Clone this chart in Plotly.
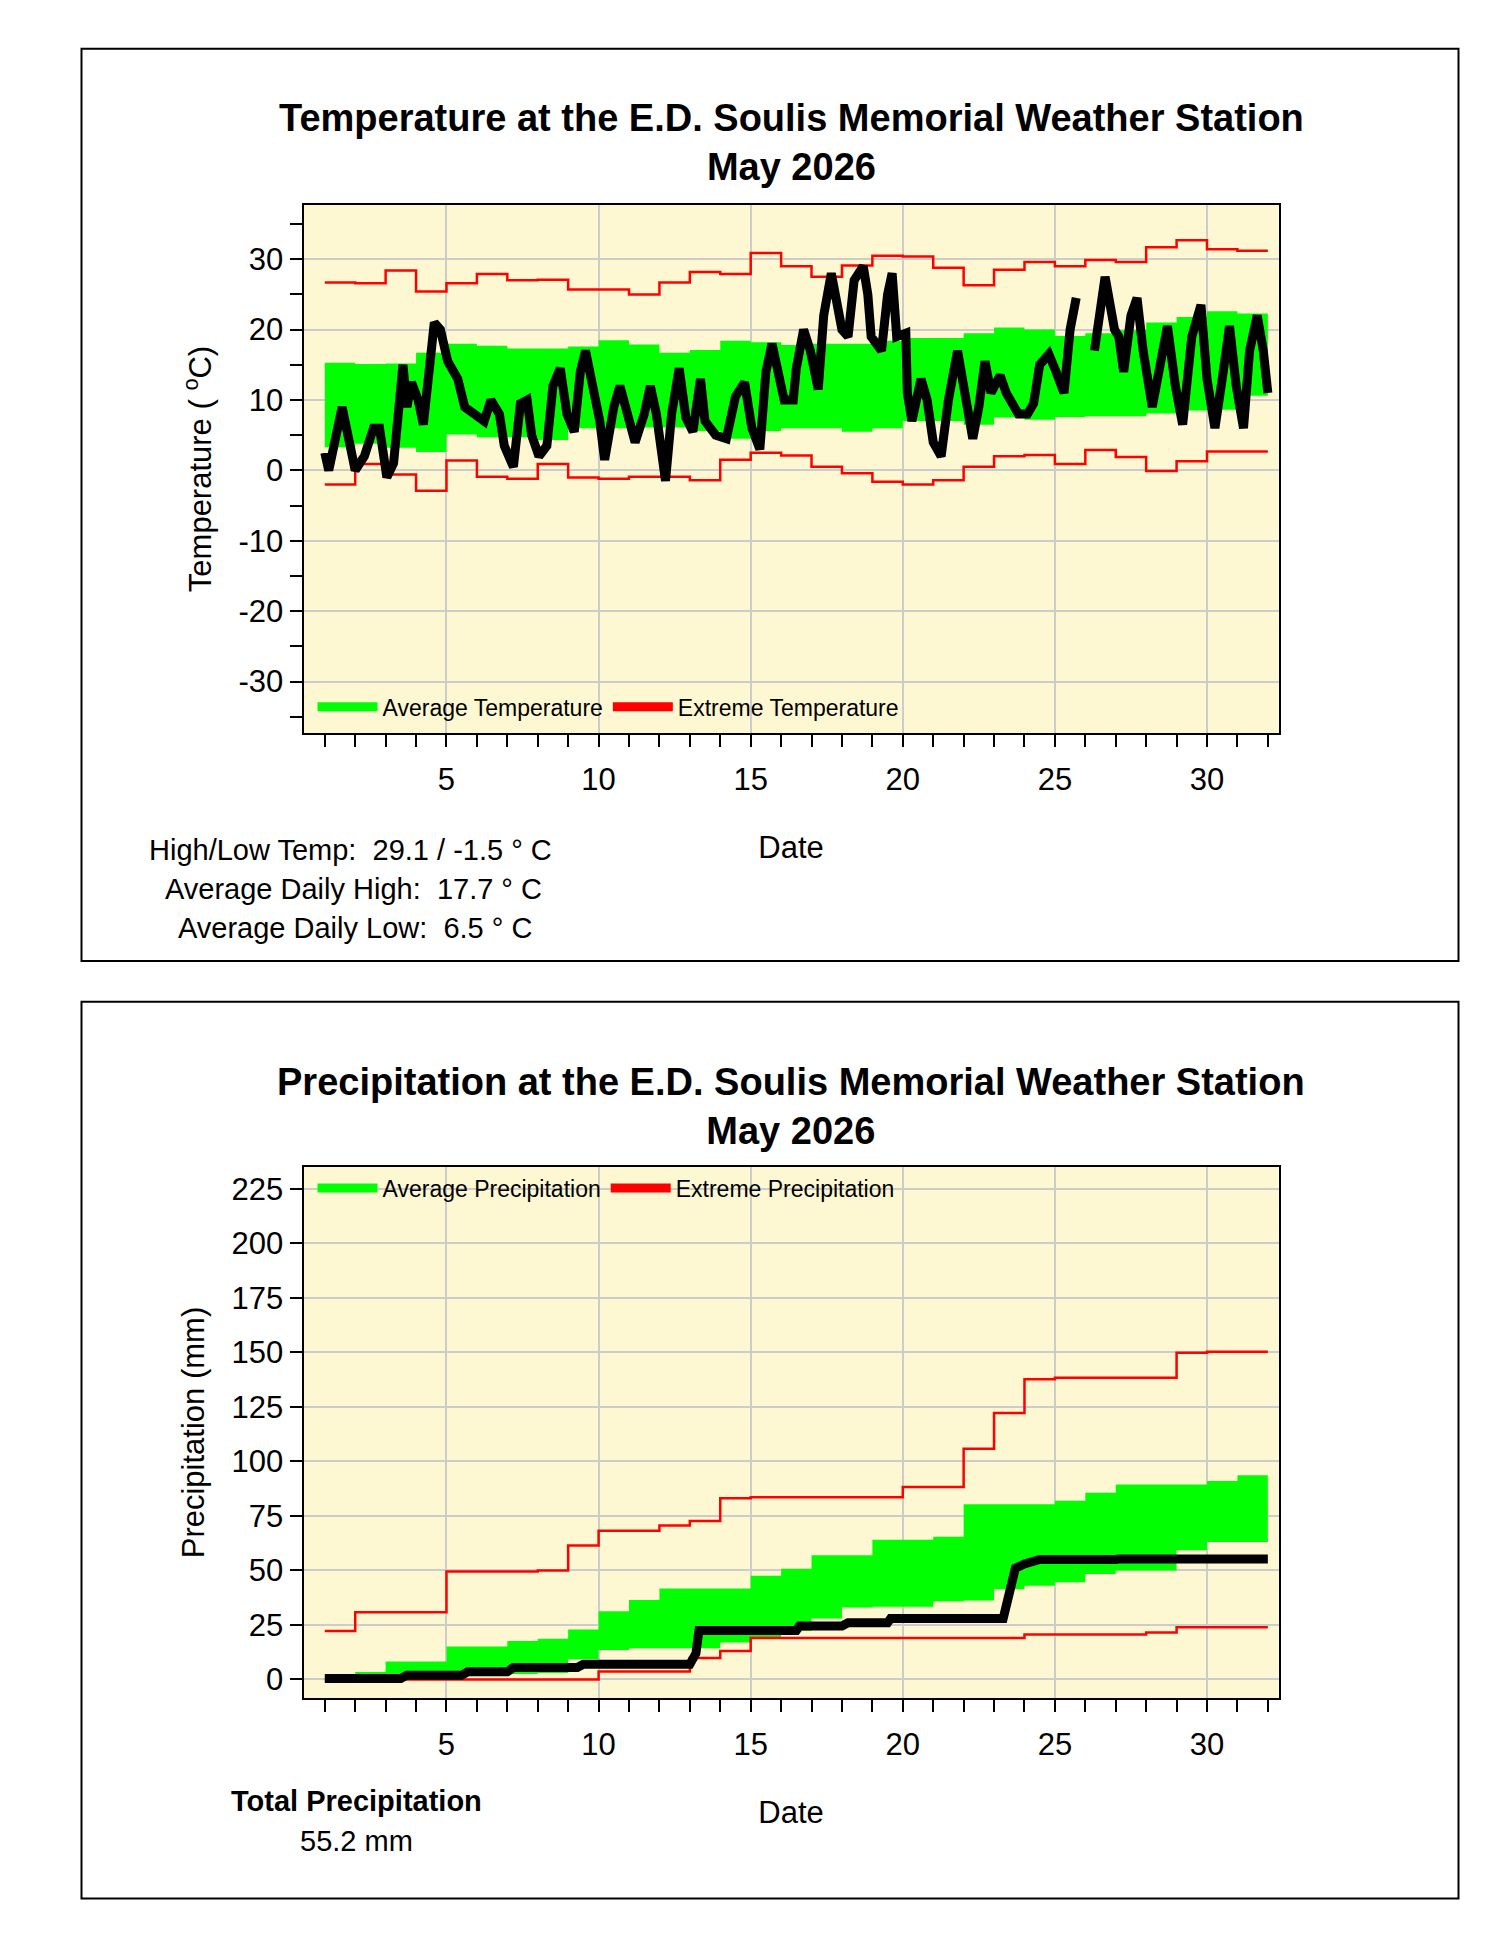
import plotly.graph_objects as go

# day boundaries for the daily step series (day 1 .. 32)
days = list(range(1, 33))

# temperature normals / extremes per day (31 values, last repeated for the step end)
avg_hi = [15.3, 15.1, 15.2, 16.7, 18, 17.7, 17.3, 17.3, 17.6, 18.5, 17.9, 16.7, 17.1, 18.4, 18.2, 17.8,
          18, 18, 18.4, 18.8, 18.8, 19.5, 20.3, 20, 19.1, 19.5, 19.9, 21, 21.8, 22.6, 22.3]
avg_lo = [3.3, 3.8, 3.2, 2.6, 5.1, 4.7, 4.7, 4.3, 6, 6, 6.1, 6.1, 5.6, 4.5, 5.6, 6, 6, 5.5, 6, 7, 7,
          6.5, 7.5, 7.2, 7.6, 7.7, 7.7, 8.1, 8.5, 8.6, 10.6]
ext_hi = [26.7, 26.6, 28.4, 25.4, 26.6, 27.9, 27, 27.1, 25.7, 25.7, 25, 26.7, 28.2, 27.9, 30.9, 29,
          27.5, 29.1, 30.5, 30.4, 28.8, 26.3, 28.5, 29.6, 29, 29.9, 29.6, 31.7, 32.7, 31.4, 31.2]
ext_lo = [-2, 0.9, -0.6, -2.9, 1.4, -0.9, -1.2, 0.9, -1, -1.2, -0.9, -0.9, -1.4, 1.5, 2.5, 2.1, 0.5,
          -0.4, -1.6, -2, -1.4, 0.5, 2, 2.2, 0.9, 2.9, 1.9, -0.1, 1.3, 2.7, 2.7]

t_day = [1.0, 1.13, 1.57, 2.0, 2.3, 2.6, 2.8, 3.04, 3.26, 3.57, 3.7, 3.85, 4.07, 4.24, 4.6, 4.8, 5.04,
         5.37, 5.6, 5.9, 6.24, 6.46, 6.74, 6.9, 7.2, 7.43, 7.65, 7.8, 8.04, 8.3, 8.5, 8.74, 8.96, 9.2,
         9.4, 9.57, 9.83, 10.04, 10.2, 10.5, 10.7, 10.9, 11.2, 11.5, 11.7, 11.9, 12.2, 12.4, 12.65,
         12.87, 13.1, 13.35, 13.5, 13.85, 14.2, 14.5, 14.8, 15.04, 15.3, 15.5, 15.7, 15.9, 16.1, 16.4,
         16.5, 16.74, 16.96, 17.22, 17.4, 17.65, 17.8, 18.0, 18.2, 18.4, 18.7, 18.85, 18.96, 19.3, 19.5,
         19.65, 19.8, 20.1, 20.15, 20.3, 20.6, 20.8, 21.0, 21.26, 21.5, 21.8, 22.0, 22.3, 22.5, 22.7,
         22.9, 23.2, 23.4, 23.8, 24.1, 24.3, 24.5, 24.8, 25.04, 25.3, 25.5, 25.7, 26.0,
         26.3, 26.46, 26.65, 26.96, 27.1, 27.26, 27.5, 27.7, 27.9, 28.2, 28.5, 28.7, 28.96, 29.2, 29.5,
         29.8, 30.0, 30.26, 30.5, 30.74, 30.96, 31.2, 31.4, 31.65, 31.85, 32.0]
t_val = [2.5, 0, 9, 0, 2, 6, 6, -1, 1, 15, 9, 12.5, 10, 6.5, 21, 20, 15.5,
         13, 9, 8, 7, 10, 8, 3.5, 0.5, 9.5, 10, 5, 2, 3.5, 12, 14.5, 8, 5.5,
         14, 17, 11, 7, 1.5, 9, 12, 9, 4, 8, 12, 8, -1.5, 8, 14.5,
         7.5, 5.5, 13, 7, 5, 4.5, 10.5, 12.5, 6, 3, 14, 18, 14, 10, 10,
         14.5, 20, 17, 11.5, 22, 28, 24, 20, 19, 27, 29, 25, 19, 17, 25,
         28, 19, 19.5, 11, 7, 13, 10, 4, 2, 10, 17, 12, 4.5, 9, 15.5,
         11, 13.5, 11, 8, 8, 9.5, 15, 16.5, 14, 11, 20, 24.5, None,
         17, 22, 27.5, 20, 19, 14, 22, 24.5, 17, 9, 17, 20.5, 12, 6.5, 19,
         23.5, 13, 6, 13, 20.5, 12, 6, 17, 22, 17, 11]

# precipitation normals / extremes (cumulative, mm)
pavg_hi = [0, 3.4, 8.3, 8.3, 15.1, 15.1, 17.7, 18.7, 22.9, 31.3, 36.5, 41.7, 41.7, 41.7, 47.6, 50.8,
           57, 57, 64.1, 64.1, 65.4, 80.4, 80.4, 80.4, 82, 85.6, 89.4, 89.4, 89.4, 91, 93.7]
pavg_lo = [0, 0, 1, 1, 2, 2, 2.5, 3, 9.3, 13.5, 14.3, 14.3, 14.3, 17, 19.2, 22.4, 28, 33, 33.3, 33.3,
           35.9, 36.2, 41.4, 43, 44.6, 48.4, 50, 50, 59.3, 63, 63]
pext_hi = [22.2, 30.8, 30.8, 30.8, 49.5, 49.5, 49.5, 50, 61.4, 68.2, 68.2, 70.6, 72.7, 83.1, 83.6,
           83.6, 83.6, 83.6, 83.6, 88.3, 88.3, 105.8, 122.2, 137.7, 138.3, 138.3, 138.3, 138.3, 149.8,
           150.3, 150.3]
pext_lo = [0, 0, 0, 0, 0, 0, 0, 0, 0, 3.7, 3.7, 3.7, 9.9, 13.1, 19, 19, 19, 19, 19, 19, 19, 19, 19,
           20.6, 20.6, 20.6, 20.6, 21.6, 24, 24, 24]

# observed cumulative precipitation
p_day = [1, 3.5, 3.7, 5.5, 5.7, 7.0, 7.2, 9.3, 9.5, 13.0, 13.2, 13.3, 16.5, 16.6, 18.0, 18.2, 19.5,
         19.6, 23.3, 23.5, 23.7, 24.0, 24.5, 27, 27.1, 32]
p_val = [0.5, 0.5, 2, 2, 3.5, 3.5, 5.5, 5.5, 7, 7, 12, 22.5, 22.5, 24.5, 24.5, 26, 26,
         28, 28, 40, 51, 53, 55, 55, 55.2, 55.2]

temp_ticks = [-30, -20, -10, 0, 10, 20, 30]

GREEN = "#00ff00"
RED = "#ff0000"
BG = "#fdf8d2"
FONT = "Liberation Sans, Arial, sans-serif"
FS = 31


def step(v):
    return v + [v[-1]]


fig = go.Figure()

# temperature panel
fig.add_trace(go.Scatter(x=days, y=step(avg_lo), mode="lines", line=dict(width=0, shape="hv"),
                         showlegend=False, hoverinfo="skip"))
fig.add_trace(go.Scatter(x=days, y=step(avg_hi), mode="lines", line=dict(width=0, shape="hv"),
                         fill="tonexty", fillcolor=GREEN, showlegend=False))
fig.add_trace(go.Scatter(x=days, y=step(ext_hi), mode="lines", line=dict(color=RED, width=2.5, shape="hv"),
                         showlegend=False))
fig.add_trace(go.Scatter(x=days, y=step(ext_lo), mode="lines", line=dict(color=RED, width=2.5, shape="hv"),
                         showlegend=False))
fig.add_trace(go.Scatter(x=t_day, y=t_val, mode="lines", line=dict(color="black", width=9),
                         showlegend=False))
fig.add_trace(go.Scatter(x=[None], y=[None], mode="lines", line=dict(color=GREEN, width=9),
                         name="Average Temperature", legend="legend"))
fig.add_trace(go.Scatter(x=[None], y=[None], mode="lines", line=dict(color=RED, width=9),
                         name="Extreme Temperature", legend="legend"))

# precipitation panel
fig.add_trace(go.Scatter(x=days, y=step(pavg_lo), mode="lines", line=dict(width=0, shape="hv"),
                         showlegend=False, xaxis="x2", yaxis="y2"))
fig.add_trace(go.Scatter(x=days, y=step(pavg_hi), mode="lines", line=dict(width=0, shape="hv"),
                         fill="tonexty", fillcolor=GREEN, showlegend=False, xaxis="x2", yaxis="y2"))
fig.add_trace(go.Scatter(x=days, y=step(pext_hi), mode="lines", line=dict(color=RED, width=2.5, shape="hv"),
                         showlegend=False, xaxis="x2", yaxis="y2"))
fig.add_trace(go.Scatter(x=days, y=step(pext_lo), mode="lines", line=dict(color=RED, width=2.5, shape="hv"),
                         showlegend=False, xaxis="x2", yaxis="y2"))
fig.add_trace(go.Scatter(x=p_day, y=p_val, mode="lines", line=dict(color="black", width=9),
                         showlegend=False, xaxis="x2", yaxis="y2"))
fig.add_trace(go.Scatter(x=[None], y=[None], mode="lines", line=dict(color=GREEN, width=9),
                         name="Average Precipitation", xaxis="x2", yaxis="y2", legend="legend2"))
fig.add_trace(go.Scatter(x=[None], y=[None], mode="lines", line=dict(color=RED, width=9),
                         name="Extreme Precipitation", xaxis="x2", yaxis="y2", legend="legend2"))

xcommon = dict(range=[0.3, 32.35], dtick=5, tick0=0, showgrid=True, gridcolor="#cccccc", gridwidth=2,
               ticks="outside", ticklen=12, tickwidth=2, tickcolor="black", ticklabelstandoff=6,
               minor=dict(dtick=1, tick0=0, ticks="outside", ticklen=12, tickwidth=2, tickcolor="black", showgrid=False),
               showline=True, linecolor="black", linewidth=2, mirror=True, zeroline=False,
               tickfont=dict(size=FS), title=dict(text="Date", font=dict(size=FS), standoff=40))
ycommon = dict(showgrid=True, gridcolor="#cccccc", gridwidth=2, ticks="outside", ticklen=12, tickwidth=2,
               tickcolor="black", showline=True, linecolor="black", linewidth=2, mirror=True, zeroline=False,
               tickfont=dict(size=FS))

legend_common = dict(orientation="h", xanchor="left", yanchor="middle", traceorder="normal",
                     bgcolor="rgba(0,0,0,0)", font=dict(size=23), itemwidth=60)

fig.update_layout(
    width=1500, height=1941, margin=dict(l=0, r=0, t=0, b=0),
    paper_bgcolor="white", plot_bgcolor=BG, font=dict(family=FONT, color="black"),
    xaxis=dict(xcommon, domain=[0.197, 0.847], anchor="y"),
    yaxis=dict(ycommon, domain=[0.6265, 0.8985], range=[-37.3, 37.7],
               tickvals=temp_ticks, ticktext=[str(v) for v in temp_ticks],
               minor=dict(dtick=5, ticks="outside", ticklen=12, tickwidth=2, tickcolor="black", showgrid=False),
               title=dict(text="Temperature ( <sup>o</sup>C)", font=dict(size=FS), standoff=18)),
    xaxis2=dict(xcommon, domain=[0.197, 0.847], anchor="y2"),
    yaxis2=dict(ycommon, domain=[0.1293, 0.4029], range=[-8.5, 235], dtick=25,
                title=dict(text="Precipitation (mm)", font=dict(size=FS), standoff=18)),
    legend=dict(legend_common, x=0.203, y=0.640),
    legend2=dict(legend_common, x=0.203, y=0.392),
    shapes=[
        dict(type="rect", xref="paper", yref="paper", x0=0.049, x1=0.967, y0=0.509, y1=0.979,
             line=dict(color="black", width=2)),
        dict(type="rect", xref="paper", yref="paper", x0=0.049, x1=0.967, y0=0.026, y1=0.488,
             line=dict(color="black", width=2)),
    ],
    annotations=[
        dict(text="<b>Temperature at the E.D. Soulis Memorial Weather Station<br>May 2026</b>",
             xref="paper", yref="paper", x=0.522, y=0.955, xanchor="center", yanchor="top", showarrow=False,
             font=dict(size=38)),
        dict(text="<b>Precipitation at the E.D. Soulis Memorial Weather Station<br>May 2026</b>",
             xref="paper", yref="paper", x=0.522, y=0.4585, xanchor="center", yanchor="top", showarrow=False,
             font=dict(size=38)),
        dict(text="High/Low Temp:  29.1 / -1.5 ° C", xref="paper", yref="paper", x=0.0925, y=1 - 842 / 1941,
             xanchor="left", showarrow=False, font=dict(size=FS - 2)),
        dict(text="Average Daily High:  17.7 ° C", xref="paper", yref="paper", x=0.103, y=1 - 881 / 1941,
             xanchor="left", showarrow=False, font=dict(size=FS - 2)),
        dict(text="Average Daily Low:  6.5 ° C", xref="paper", yref="paper", x=0.112, y=1 - 920 / 1941,
             xanchor="left", showarrow=False, font=dict(size=FS - 2)),
        dict(text="<b>Total Precipitation</b>", xref="paper", yref="paper", x=0.232, y=1 - 1811 / 1941,
             xanchor="center", showarrow=False, font=dict(size=FS - 2)),
        dict(text="55.2 mm", xref="paper", yref="paper", x=0.232, y=1 - 1851 / 1941,
             xanchor="center", showarrow=False, font=dict(size=FS - 2)),
    ],
)

fig.write_html("out.html")
